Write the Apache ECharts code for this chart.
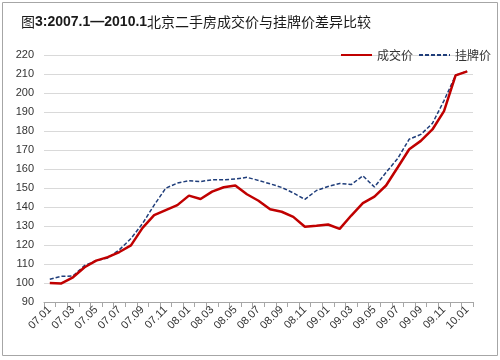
<!DOCTYPE html>
<html><head><meta charset="utf-8">
<script src="https://cdn.jsdelivr.net/npm/echarts@6/dist/echarts.min.js"></script>
<style>html,body{margin:0;padding:0;background:#fff}#c{width:500px;height:360px}</style>
</head><body><div id="c"></div>
<script>
var categories = ['07.01','07.02','07.03','07.04','07.05','07.06','07.07','07.08','07.09','07.10','07.11','07.12',
'08.01','08.02','08.03','08.04','08.05','08.06','08.07','08.08','08.09','08.10','08.11','08.12',
'09.01','09.02','09.03','09.04','09.05','09.06','09.07','09.08','09.09','09.10','09.11','09.12','10.01'];
var dealPrice = [100, 99.8, 103, 108.3, 111.8, 113.6, 116.3, 119.8, 129, 135.7, 138.4, 141, 146, 144.2, 148.1, 150.4, 151.3, 146.7, 143.3, 138.8, 137.5, 134.8, 129.6, 130.1, 130.8, 128.5, 135.5, 142, 145.5, 151.3, 160.8, 170.4, 174.8, 180.8, 190.5, 209.3, 211.4];
var listPrice = [102, 103.5, 103.7, 109.2, 111.8, 113.2, 117.5, 123.4, 131.3, 141, 149.9, 152.6, 153.8, 153.4, 154.3, 154.3, 154.7, 155.6, 154, 152.2, 150.3, 147.4, 144, 148.7, 150.8, 152.4, 151.8, 156.4, 150.5, 158.2, 165.5, 175.7, 178.2, 184, 196, 209.3, 211.4];
var seriesNames = ['成交价', '挂牌价'];
var titleHead = '图';
var titleLatin = '3:2007.1—2010.1';
var titleCn = '北京二手房成交价与挂牌价差异比较';

var chart = echarts.init(document.getElementById('c'), null, {renderer: 'canvas'});
chart.setOption({
  animation: false,
  backgroundColor: '#fff',
  graphic: [{type: 'rect', shape: {x: 2.5, y: 2.5, width: 495, height: 353}, style: {fill: 'none', stroke: '#a6a6a6', lineWidth: 1}}],
  title: {
    text: '{n|' + titleHead + '}{b|' + titleLatin + '}{n|' + titleCn + '}',
    left: 16, top: 10,
    textStyle: {
      rich: {
        b: {fontFamily: 'Liberation Sans, Arial, sans-serif', fontWeight: 'bold', fontSize: 14, color: '#1a1a1a'},
        n: {fontFamily: 'Noto Sans CJK SC', fontWeight: 'normal', fontSize: 14, color: '#1a1a1a'}
      }
    }
  },
  legend: {
    right: 4, top: 44, itemWidth: 31, itemHeight: 10, itemGap: 5,
    itemStyle: {opacity: 0},
    textStyle: {fontFamily: 'Noto Sans CJK SC', fontSize: 12, color: '#333'},
    data: seriesNames
  },
  grid: {left: 44, right: 27, top: 55, bottom: 58},
  xAxis: {
    type: 'category', data: categories, boundaryGap: true,
    axisLine: {lineStyle: {color: '#a6a6a6'}},
    axisTick: {show: true, interval: 0, lineStyle: {color: '#a6a6a6'}},
    axisLabel: {interval: 1, rotate: 45, color: '#333', fontSize: 11, fontFamily: 'Liberation Sans, Arial, sans-serif', margin: 6}
  },
  yAxis: {
    type: 'value', min: 90, max: 220, interval: 10,
    axisLine: {show: false}, axisTick: {show: false},
    axisLabel: {color: '#333', fontSize: 11, fontFamily: 'Liberation Sans, Arial, sans-serif', margin: 10},
    splitLine: {lineStyle: {color: '#d9d9d9'}}
  },
  series: [
    {name: seriesNames[0], type: 'line', data: dealPrice, symbol: 'none', lineStyle: {color: '#c00000', width: 2.5}, itemStyle: {color: '#c00000'}, z: 3},
    {name: seriesNames[1], type: 'line', data: listPrice, symbol: 'none', lineStyle: {color: '#1f3d7a', width: 1.5, type: [4, 2]}, itemStyle: {color: '#1f3d7a'}, z: 2}
  ]
});
</script></body></html>
